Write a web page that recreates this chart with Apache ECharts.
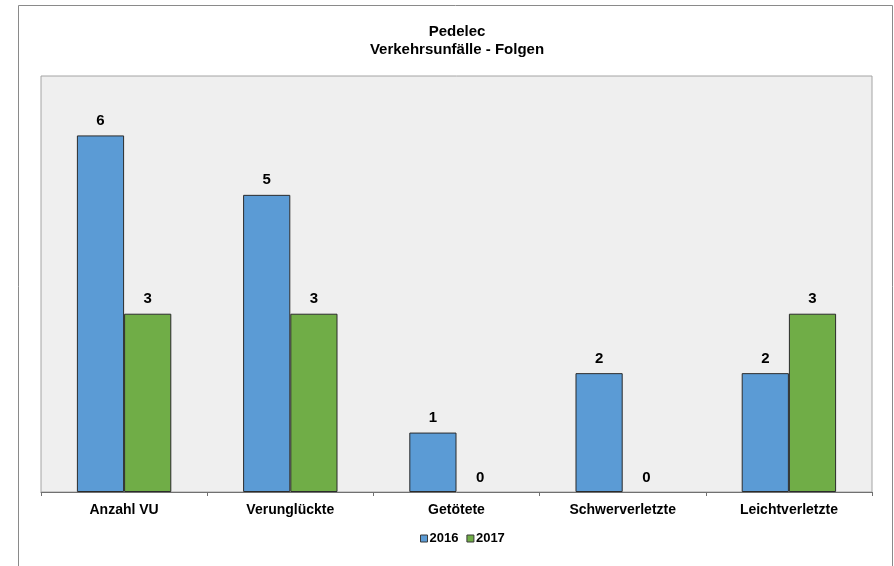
<!DOCTYPE html>
<html><head><meta charset="utf-8">
<script src="https://cdn.jsdelivr.net/npm/echarts@6/dist/echarts.min.js"></script>
<style>html,body{margin:0;padding:0;background:#fff;}#c{width:894px;height:566px;}</style>
</head><body><div id="c"></div>
<script>
const categories = ['Anzahl VU','Verunglückte','Getötete','Schwerverletzte','Leichtverletzte'];
const values2016 = [6,5,1,2,2];
const values2017 = [3,3,0,0,3];
const seriesNames = ['2016','2017'];
const titleLines = ['Pedelec','Verkehrsunfälle - Folgen'];

const chart = echarts.init(document.getElementById('c'), null, {renderer:'canvas'});
const font = 'Liberation Sans, Arial, sans-serif';
const lbl = {show:true, position:'top', distance:7, color:'#000', fontWeight:'bold', fontSize:15, fontFamily:font};
const toItems = arr => arr.map(v => v === 0 ? {value:v, itemStyle:{borderWidth:0}} : v);
chart.setOption({
  animation:false,
  backgroundColor:'#fff',
  graphic:[{type:'rect', shape:{x:18.5,y:5.5,width:874,height:580}, style:{fill:'none', stroke:'#8a8a8a', lineWidth:1}, silent:true}],
  title:{text:titleLines.join('\n'), left:452, textAlign:'center', top:18,
    textStyle:{fontFamily:font, fontWeight:'bold', fontSize:15, color:'#000', lineHeight:18}},
  legend:{data:seriesNames, top:527, left:415, icon:'rect', itemWidth:7, itemHeight:7, itemGap:8,
    itemStyle:{borderColor:'#3a3a3a', borderWidth:1},
    textStyle:{fontFamily:font, fontWeight:'bold', fontSize:13, color:'#000', padding:[0,0,0,-3]}},
  grid:{left:41, right:22, top:76, bottom:74, show:true, backgroundColor:'#efefef', borderColor:'#a4a4a4', borderWidth:1},
  xAxis:{type:'category', data:categories,
    axisLine:{lineStyle:{color:'#707070'}},
    axisTick:{show:true, length:4, lineStyle:{color:'#707070'}},
    axisLabel:{color:'#000', fontWeight:'bold', fontSize:14, fontFamily:font, margin:11}},
  yAxis:{type:'value', min:0, max:7, interval:1, show:false, splitLine:{show:false}},
  series:[
    {name:seriesNames[0], type:'bar', data:toItems(values2016), barWidth:'28.4%', barGap:'0%',
     itemStyle:{color:'#5b9bd5', borderColor:'#2b2b2b', borderWidth:1}, label:lbl},
    {name:seriesNames[1], type:'bar', data:toItems(values2017), barWidth:'28.4%',
     itemStyle:{color:'#70ad47', borderColor:'#2b2b2b', borderWidth:1}, label:lbl}
  ]
});
</script></body></html>
